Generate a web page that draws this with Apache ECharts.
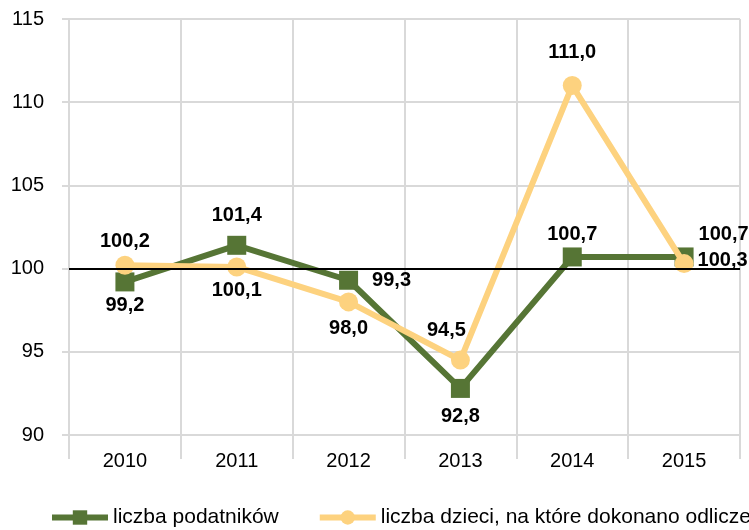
<!DOCTYPE html>
<html>
<head>
<meta charset="utf-8">
<script src="https://cdn.jsdelivr.net/npm/echarts@6/dist/echarts.min.js"></script>
<style>
  html, body { margin: 0; padding: 0; background: #fff; }
  #chart { width: 749px; height: 530px; }
</style>
</head>
<body>
<div id="chart"></div>
<script>
var years = ['2010', '2011', '2012', '2013', '2014', '2015'];
var podatnicy = [99.2, 101.4, 99.3, 92.8, 100.7, 100.7];
var dzieci = [100.2, 100.1, 98.0, 94.5, 111.0, 100.3];
var seriesNames = ['liczba podatników', 'liczba dzieci, na które dokonano odliczenia'];

// label placement per point, like in the original
var greenPos = [
  {position: 'bottom', distance: 4},
  {position: 'top', distance: 10},
  {position: 'right', distance: 14},
  {position: 'bottom', distance: 9},
  {position: 'top', distance: 3},
  {position: 'right', distance: 5, offset: [0, -22]}
];
var yellowPos = [
  {position: 'top', distance: 4},
  {position: 'bottom', distance: 4},
  {position: 'bottom', distance: 7},
  {position: 'top', distance: 10, offset: [-14, 0]},
  {position: 'top', distance: 14},
  {position: 'right', distance: 4, offset: [0, -3]}
];

function fmt(v) { return v.toFixed(1).replace('.', ','); }

function build(values, pos) {
  return values.map(function (v, i) {
    return { value: v, label: pos[i] };
  });
}

var font = 'Liberation Sans, Arial, sans-serif';

var option = {
  animation: false,
  textStyle: { fontFamily: font },
  grid: { left: 69, right: 9, top: 19, bottom: 95 },
  legend: {
    bottom: -3,
    left: 44,
    width: 1200,
    itemWidth: 56,
    itemHeight: 18,
    itemGap: 38,
    lineStyle: { width: 6 },
    textStyle: { fontSize: 21, color: '#000', fontFamily: font },
    data: seriesNames
  },
  xAxis: {
    type: 'category',
    data: years,
    boundaryGap: true,
    axisLine: { show: false },
    axisTick: { show: true, length: 24, lineStyle: { color: '#d9d9d9', width: 2 } },
    axisLabel: { fontSize: 20, color: '#000', margin: 16 },
    splitLine: { show: true, lineStyle: { color: '#d9d9d9', width: 2 } }
  },
  yAxis: {
    type: 'value',
    min: 90,
    max: 115,
    interval: 5,
    axisLine: { show: true, lineStyle: { color: '#d9d9d9', width: 2 } },
    axisTick: { show: true, length: 7, lineStyle: { color: '#d9d9d9', width: 2 } },
    axisLabel: { fontSize: 20, color: '#000', margin: 25 },
    splitLine: { show: true, lineStyle: { color: '#d9d9d9', width: 2 } }
  },
  series: [
    {
      name: seriesNames[0],
      type: 'line',
      data: build(podatnicy, greenPos),
      symbol: 'rect',
      symbolSize: 19,
      z: 3,
      itemStyle: { color: '#567535' },
      lineStyle: { color: '#567535', width: 6 },
      label: {
        show: true,
        fontSize: 20,
        fontWeight: 'bold',
        color: '#000',
        formatter: function (p) { return fmt(p.value); }
      },
      markLine: {
        silent: true,
        symbol: 'none',
        label: { show: false },
        lineStyle: { color: '#000', width: 2, type: 'solid' },
        data: [{ yAxis: 100 }]
      }
    },
    {
      name: seriesNames[1],
      type: 'line',
      data: build(dzieci, yellowPos),
      symbol: 'circle',
      symbolSize: 19,
      z: 4,
      itemStyle: { color: '#fdd27f' },
      lineStyle: { color: '#fdd27f', width: 6 },
      label: {
        show: true,
        fontSize: 20,
        fontWeight: 'bold',
        color: '#000',
        formatter: function (p) { return fmt(p.value); }
      }
    }
  ]
};

var chart = echarts.init(document.getElementById('chart'));
chart.setOption(option);
</script>
</body>
</html>
